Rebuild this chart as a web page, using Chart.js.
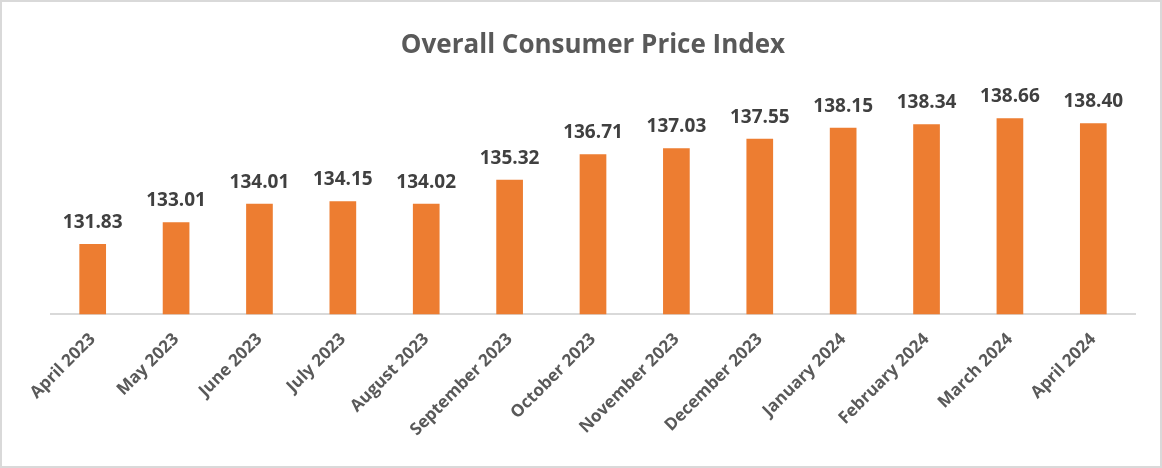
<!DOCTYPE html>
<html>
<head>
<meta charset="utf-8">
<script src="https://cdn.jsdelivr.net/npm/chart.js@4"></script>
<style>
  body { margin: 0; background: #fff; }
  #wrap { width: 1158px; height: 464px; border: 2px solid #d9d9d9; }
</style>
</head>
<body>
<div id="wrap"><canvas id="cpiChart" width="1158" height="464"></canvas></div>
<script>
const months = ['April 2023', 'May 2023', 'June 2023', 'July 2023', 'August 2023', 'September 2023',
    'October 2023', 'November 2023', 'December 2023', 'January 2024', 'February 2024', 'March 2024', 'April 2024'];
const cpiValues = [131.83, 133.01, 134.01, 134.15, 134.02, 135.32, 136.71, 137.03, 137.55, 138.15, 138.34, 138.66, 138.40];

const cpiChartCanvas = document.getElementById('cpiChart');

// draws the value over each bar
const barLabels = {
    id: 'barLabels',
    afterDatasetsDraw(chart) {
        const ctx = chart.ctx;
        const meta = chart.getDatasetMeta(0);
        ctx.save();
        ctx.font = 'bold 19px "Open Sans"';
        ctx.fillStyle = '#404040';
        ctx.textAlign = 'center';
        ctx.textBaseline = 'alphabetic';
        meta.data.forEach((bar, i) => {
            ctx.fillText(cpiValues[i].toFixed(2), bar.x, bar.y - 16);
        });
        ctx.restore();
    }
};

const cpiChart = new Chart(cpiChartCanvas, {
    type: 'bar',
    data: {
        labels: months,
        datasets: [{
            label: 'Overall Consumer Price Index',
            data: cpiValues,
            backgroundColor: '#ED7D31',
            barPercentage: 0.32,
            categoryPercentage: 1.0,
        }]
    },
    options: {
        responsive: false,
        animation: false,
        layout: {
            padding: { left: 49, right: 25, top: 28, bottom: 19 }
        },
        plugins: {
            legend: { display: false },
            tooltip: { enabled: false },
            title: {
                display: true,
                text: 'Overall Consumer Price Index',
                color: '#595959',
                font: { family: 'Open Sans', size: 26, weight: 'bold' },
                padding: { top: 0, bottom: 0 }
            }
        },
        scales: {
            x: {
                grid: { display: false },
                border: { color: '#d9d9d9', width: 2 },
                ticks: {
                    color: '#595959',
                    font: { family: 'Open Sans', size: 17, weight: 'bold' },
                    maxRotation: 45,
                    minRotation: 45,
                    autoSkip: false,
                    padding: 7,
                }
            },
            y: {
                display: false,
                min: 128,
                max: 141.77,
            }
        }
    },
    plugins: [barLabels]
});
</script>
</body>
</html>
